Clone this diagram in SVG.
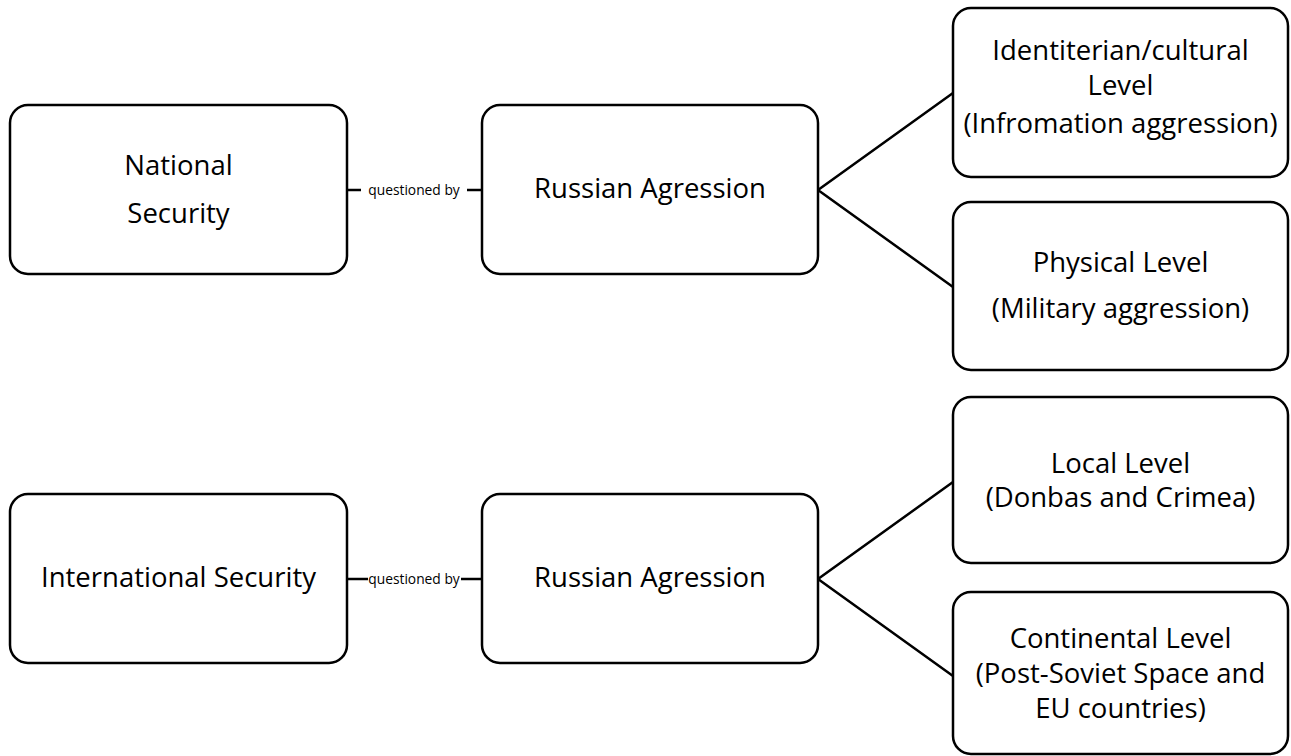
<svg xmlns="http://www.w3.org/2000/svg" width="1291" height="756" viewBox="0 0 1291 756">
<style>
.box{fill:#fff;stroke:#000;stroke-width:2.5}
.t{font-family:"Open Sans",Lato,"Liberation Sans",sans-serif;font-size:27.5px;fill:#000;text-anchor:middle}
.s{font-family:"Open Sans",Lato,"Liberation Sans",sans-serif;font-size:13.8px;fill:#000;text-anchor:middle}
.c{stroke:#000;stroke-width:2.5;fill:none}
</style>
<rect width="1291" height="756" fill="#fff"/>
<g id="connectors">
<line class="c" x1="347" y1="190" x2="361" y2="190"/>
<line class="c" x1="467" y1="190" x2="482" y2="190"/>
<text class="s" x="414" y="194.5">questioned by</text>
<line class="c" x1="347" y1="579" x2="368" y2="579"/>
<line class="c" x1="461" y1="579" x2="482" y2="579"/>
<text class="s" x="414" y="583.5">questioned by</text>
<polyline class="c" points="953,93 818,190 953,287"/>
<polyline class="c" points="953,482 818,579 953,676"/>
</g>
<g id="national">
<rect class="box" x="10" y="105" width="337" height="169" rx="18"/>
<text class="t" x="178.5" y="175">National</text>
<text class="t" x="178.5" y="223">Security</text>
</g>
<g id="russian1">
<rect class="box" x="482" y="105" width="336" height="169" rx="18"/>
<text class="t" x="650" y="198">Russian Agression</text>
</g>
<g id="identity">
<rect class="box" x="953" y="8" width="335" height="169" rx="18"/>
<text class="t" x="1120.5" y="60">Identiterian/cultural</text>
<text class="t" x="1120.5" y="95">Level</text>
<text class="t" x="1120.5" y="133">(Infromation aggression)</text>
</g>
<g id="physical">
<rect class="box" x="953" y="202" width="335" height="168" rx="18"/>
<text class="t" x="1120.5" y="272">Physical Level</text>
<text class="t" x="1120.5" y="318">(Military aggression)</text>
</g>
<g id="international">
<rect class="box" x="10" y="494" width="337" height="169" rx="18"/>
<text class="t" x="178.5" y="587">International Security</text>
</g>
<g id="russian2">
<rect class="box" x="482" y="494" width="336" height="169" rx="18"/>
<text class="t" x="650" y="587">Russian Agression</text>
</g>
<g id="local">
<rect class="box" x="953" y="397" width="335" height="166" rx="18"/>
<text class="t" x="1120.5" y="473">Local Level</text>
<text class="t" x="1120.5" y="507">(Donbas and Crimea)</text>
</g>
<g id="continental">
<rect class="box" x="953" y="592" width="335" height="162" rx="18"/>
<text class="t" x="1120.5" y="648">Continental Level</text>
<text class="t" x="1120.5" y="683">(Post-Soviet Space and</text>
<text class="t" x="1120.5" y="718">EU countries)</text>
</g>
</svg>
